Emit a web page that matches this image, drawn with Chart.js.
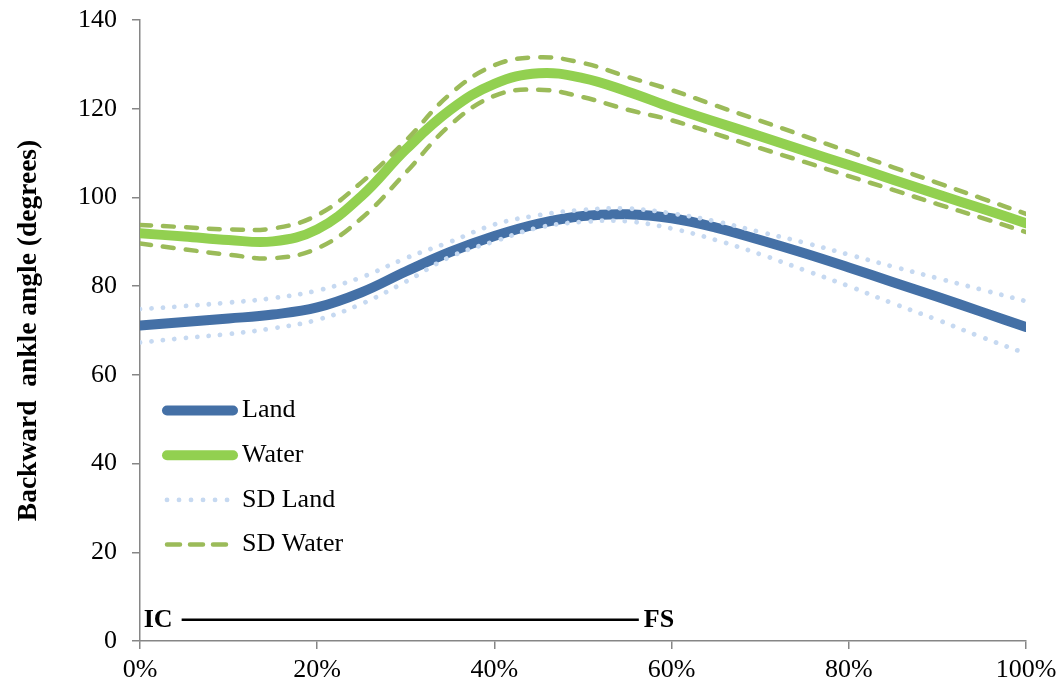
<!DOCTYPE html>
<html>
<head>
<meta charset="utf-8">
<script src="https://cdn.jsdelivr.net/npm/chart.js@4.4.1/dist/chart.umd.min.js"></script>
<style>
  html, body { margin: 0; padding: 0; background: #fff; }
  canvas { display: block; }
</style>
</head>
<body>
<canvas id="chart" width="1060" height="688"></canvas>
<script>
// Percent of the gait cycle at which each sample is taken
const gaitCycle = [0, 5, 10, 15, 20, 25, 30, 35, 40, 45, 50, 55, 60, 65, 70, 75, 80, 85, 90, 95, 100];

// Mean backward ankle angle (degrees)
const land  = [71.1, 71.9, 72.7, 73.6, 75.2, 78.6, 83.3, 87.7, 91.3, 94.1, 95.8, 96.2, 95.3, 93.2, 90.4, 87.4, 84.2, 80.9, 77.6, 74.2, 70.8];
const water = [91.9, 91.2, 90.4, 90.1, 92.8, 100.3, 110.8, 119.7, 125.6, 128.0, 126.9, 123.9, 120.3, 117.0, 113.8, 110.5, 107.3, 104.0, 100.7, 97.5, 94.2];

// Mean ± one standard deviation
const sdLandUpper  = [74.8, 75.5, 76.3, 77.3, 79.0, 82.0, 86.3, 90.0, 93.9, 96.0, 97.2, 97.5, 96.4, 94.6, 92.2, 89.8, 87.1, 84.4, 81.8, 79.2, 76.6];
const sdLandLower  = [67.3, 68.3, 69.2, 70.5, 72.4, 76.0, 81.0, 86.6, 90.1, 93.2, 94.5, 94.6, 93.0, 90.4, 87.2, 83.6, 80.0, 76.1, 72.4, 68.5, 64.8];
const sdWaterUpper = [93.8, 93.3, 92.8, 93.0, 96.0, 103.4, 112.8, 123.3, 129.8, 131.6, 130.3, 127.2, 124.2, 120.7, 117.3, 113.8, 110.3, 106.8, 103.3, 99.8, 96.3];
const sdWaterLower = [89.6, 88.3, 87.1, 86.3, 88.5, 95.3, 105.6, 116.3, 122.9, 124.3, 122.6, 119.8, 117.4, 114.3, 111.1, 108.0, 104.8, 101.7, 98.5, 95.4, 92.2];

// Axis ticks
const xTickValues = [0, 20, 40, 60, 80, 100];
const xTickLabels = ['0%', '20%', '40%', '60%', '80%', '100%'];
const yTickValues = [0, 20, 40, 60, 80, 100, 120, 140];

// Phase bar from initial contact (IC) to foot strike (FS)
const phaseStart = 4.7;
const phaseEnd = 56.3;
const phaseLevel = 4.8;
const phaseLabels = ['IC', 'FS'];

const SERIF = "'Liberation Serif', 'Times New Roman', serif";
const AXIS_GREY = '#868686';
const PLOT_TOP = 20;

const toPoints = (ys) => gaitCycle.map((x, i) => ({ x: x, y: ys[i] }));

const lineBase = {
  pointRadius: 0,
  pointHoverRadius: 0,
  tension: 0.4,
  fill: false,
  borderCapStyle: 'round',
  borderJoinStyle: 'round'
};

const datasets = [
  Object.assign({}, lineBase, {
    label: 'Land', data: toPoints(land),
    borderColor: '#4470A6', borderWidth: 10, order: 6, inLegend: true
  }),
  Object.assign({}, lineBase, {
    label: 'Water', data: toPoints(water),
    borderColor: '#92D050', borderWidth: 10, order: 5, inLegend: true
  }),
  Object.assign({}, lineBase, {
    label: 'SD Land', data: toPoints(sdLandUpper),
    borderColor: '#C6D9F1', borderWidth: 4.8, borderDash: [0.01, 11.5], order: 4, inLegend: true,
    legendDash: [0.01, 12]
  }),
  Object.assign({}, lineBase, {
    label: 'SD Land', data: toPoints(sdLandLower),
    borderColor: '#C6D9F1', borderWidth: 4.8, borderDash: [0.01, 11.5], order: 3
  }),
  Object.assign({}, lineBase, {
    label: 'SD Water', data: toPoints(sdWaterUpper),
    borderColor: '#9BBB59', borderWidth: 4.5, borderDash: [11, 12], order: 2, inLegend: true,
    legendDash: [13, 10]
  }),
  Object.assign({}, lineBase, {
    label: 'SD Water', data: toPoints(sdWaterLower),
    borderColor: '#9BBB59', borderWidth: 4.5, borderDash: [11, 12], order: 1
  }),
  {
    label: 'IC-FS', data: [{ x: phaseStart, y: phaseLevel }, { x: phaseEnd, y: phaseLevel }],
    borderColor: '#000000', borderWidth: 2.5, pointRadius: 0, pointHoverRadius: 0,
    tension: 0, fill: false, borderCapStyle: 'butt', order: 0
  }
];

// Legend drawn inside the plot area, left side
const insetLegend = {
  id: 'insetLegend',
  afterDatasetsDraw(chart) {
    const ctx = chart.ctx;
    const area = chart.chartArea;
    const items = chart.data.datasets.filter(d => d.inLegend);
    const x0 = area.left + 27;
    const x1 = area.left + 93;
    const textX = area.left + 102;
    const firstY = 410.5;
    const rowGap = 44.7;
    ctx.save();
    items.forEach((d, i) => {
      const y = firstY + i * rowGap;
      ctx.beginPath();
      ctx.strokeStyle = d.borderColor;
      ctx.lineWidth = d.borderWidth;
      ctx.lineCap = 'round';
      ctx.setLineDash(d.legendDash || []);
      ctx.moveTo(x0, y);
      ctx.lineTo(x1, y);
      ctx.stroke();
      ctx.setLineDash([]);
      ctx.fillStyle = '#000';
      ctx.font = '26px ' + SERIF;
      ctx.textAlign = 'left';
      ctx.textBaseline = 'middle';
      ctx.fillText(d.label, textX, y);
    });
    ctx.restore();
  }
};

// IC and FS labels at the ends of the phase bar
const phaseText = {
  id: 'phaseText',
  afterDatasetsDraw(chart) {
    const ctx = chart.ctx;
    const xs = chart.scales.x, ys = chart.scales.y;
    const y = ys.getPixelForValue(phaseLevel);
    ctx.save();
    ctx.fillStyle = '#000';
    ctx.font = 'bold 26px ' + SERIF;
    ctx.textBaseline = 'middle';
    ctx.textAlign = 'right';
    ctx.fillText(phaseLabels[0], xs.getPixelForValue(phaseStart) - 9, y + 1);
    ctx.textAlign = 'left';
    ctx.fillText(phaseLabels[1], xs.getPixelForValue(phaseEnd) + 5, y + 1);
    ctx.restore();
  }
};

new Chart(document.getElementById('chart'), {
  type: 'line',
  data: { datasets: datasets },
  plugins: [insetLegend, phaseText],
  options: {
    responsive: false,
    devicePixelRatio: 1,
    animation: false,
    events: [],
    layout: { padding: { left: 0, right: 34, top: PLOT_TOP, bottom: 0 } },
    plugins: {
      legend: { display: false },
      tooltip: { enabled: false },
      title: { display: false }
    },
    scales: {
      x: {
        type: 'linear',
        min: 0, max: 100,
        afterBuildTicks(scale) { scale.ticks = xTickValues.map(v => ({ value: v })); },
        afterFit(scale) { scale.height = 47; scale.paddingLeft = 0; scale.paddingRight = 0; },
        border: { display: true, color: AXIS_GREY, width: 1.5 },
        grid: { display: true, drawOnChartArea: false, drawTicks: true, tickLength: 8, color: AXIS_GREY, lineWidth: 1.5 },
        ticks: {
          padding: 6,
          maxRotation: 0,
          color: '#000',
          font: { family: SERIF, size: 26 },
          callback: (v) => xTickLabels[xTickValues.indexOf(v)]
        }
      },
      y: {
        type: 'linear',
        min: 0, max: 140,
        afterBuildTicks(scale) { scale.ticks = yTickValues.map(v => ({ value: v })); },
        afterFit(scale) { scale.width = 140; scale.paddingTop = 0; },
        border: { display: true, color: AXIS_GREY, width: 1.5 },
        grid: { display: true, drawOnChartArea: false, drawTicks: true, tickLength: 8, color: AXIS_GREY, lineWidth: 1.5 },
        ticks: {
          padding: 15,
          color: '#000',
          font: { family: SERIF, size: 26 }
        },
        title: {
          display: true,
          text: 'Backward  ankle angle (degrees)',
          color: '#000',
          font: { family: SERIF, size: 27.5, weight: 'bold' },
          padding: { top: 12, bottom: 0 }
        }
      }
    }
  }
});
</script>
</body>
</html>
